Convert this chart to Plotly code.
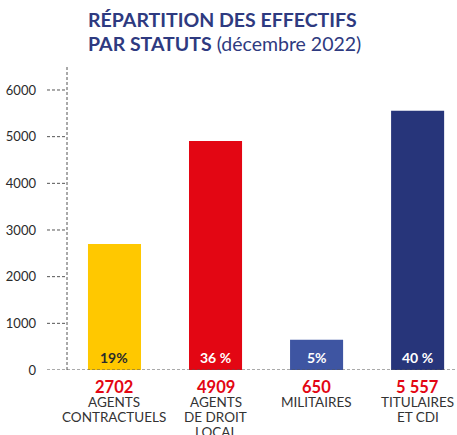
import plotly.graph_objects as go

categories = ["AGENTS<br>CONTRACTUELS", "AGENTS<br>DE DROIT<br>LOCAL", "MILITAIRES", "TITULAIRES<br>ET CDI"]
values = [2702, 4909, 650, 5557]
value_labels = ["2702", "4909", "650", "5\u202f557"]
pct_labels = ["19%", "36\u202f%", "5%", "40\u202f%"]
bar_colors = ["#FFC800", "#E30613", "#3E55A2", "#27357A"]
pct_colors = ["#2b2b2b", "#ffffff", "#ffffff", "#ffffff"]
y_ticks = [0, 1000, 2000, 3000, 4000, 5000, 6000]

FONT = "Lato"
W, H = 457, 435
ML, MR, MT, MB = 67, 2, 66, 65
plot_w = W - ML - MR
plot_h = H - MT - MB
tick_frac = 20 / plot_w

xs = list(range(len(categories)))

fig = go.Figure()
fig.add_trace(go.Bar(
    x=xs, y=values, width=0.525,
    marker=dict(color=bar_colors, line=dict(width=0)),
    hoverinfo="skip",
))

dash = dict(color="#555555", width=1, dash="3px,2px")
shapes = []
shapes.append(dict(type="line", xref="paper", yref="paper", x0=0, x1=0, y0=0, y1=1, line=dash))
for t in y_ticks:
    shapes.append(dict(type="line", xref="paper", yref="y", x0=-tick_frac, x1=1 if t == 0 else 0,
                       y0=t, y1=t, line=dash))

annotations = []
for i, (vl, pl, pc, cat) in enumerate(zip(value_labels, pct_labels, pct_colors, categories)):
    annotations.append(dict(x=i, y=0, xref="x", yref="y", text=f"<b>{pl}</b>", showarrow=False,
                            yanchor="middle", yshift=13,
                            font=dict(family=FONT, size=14, color=pc)))
    annotations.append(dict(x=i, y=0, xref="x", yref="y", text=f"<b>{vl}</b>", showarrow=False,
                            yanchor="middle", yshift=-17,
                            font=dict(family=FONT, size=16.5, color="#E30613")))
    for k, line in enumerate(cat.split("<br>")):
        annotations.append(dict(x=i, y=0, xref="x", yref="y", text=line, showarrow=False,
                                yanchor="middle", yshift=-(31.5 + 15 * k), borderpad=0,
                                font=dict(family=FONT, size=13.5, color="#333333")))

title_lines = ["<b>RÉPARTITION DES EFFECTIFS</b>", "<b>PAR STATUTS</b> (décembre 2022)"]
title_centers = [20, 43]
for line, cy in zip(title_lines, title_centers):
    annotations.append(dict(x=(86 - ML) / plot_w, y=1 + (MT - cy) / plot_h,
                            xref="paper", yref="paper", showarrow=False,
                            xanchor="left", yanchor="middle", align="left", text=line,
                            font=dict(family=FONT, size=19.5, color="#2E3A80")))

fig.update_layout(
    width=W, height=H,
    margin=dict(l=ML, r=MR, t=MT, b=MB),
    paper_bgcolor="white", plot_bgcolor="white",
    showlegend=False,
    xaxis=dict(range=[-0.47, 3.37], showticklabels=False, showgrid=False, zeroline=False,
               showline=False, ticks="", automargin=False),
    yaxis=dict(range=[0, 6514], tickvals=y_ticks, ticktext=[str(t) for t in y_ticks],
               showgrid=False, zeroline=False, showline=False, ticks="",
               ticklabelstandoff=30, automargin=False,
               tickfont=dict(family=FONT, size=13, color="#2b2b2b")),
    shapes=shapes, annotations=annotations,
)

fig.write_html("out.html", config={"displayModeBar": False},
               post_script="document.body.style.margin='0';document.body.style.overflow='hidden';")
